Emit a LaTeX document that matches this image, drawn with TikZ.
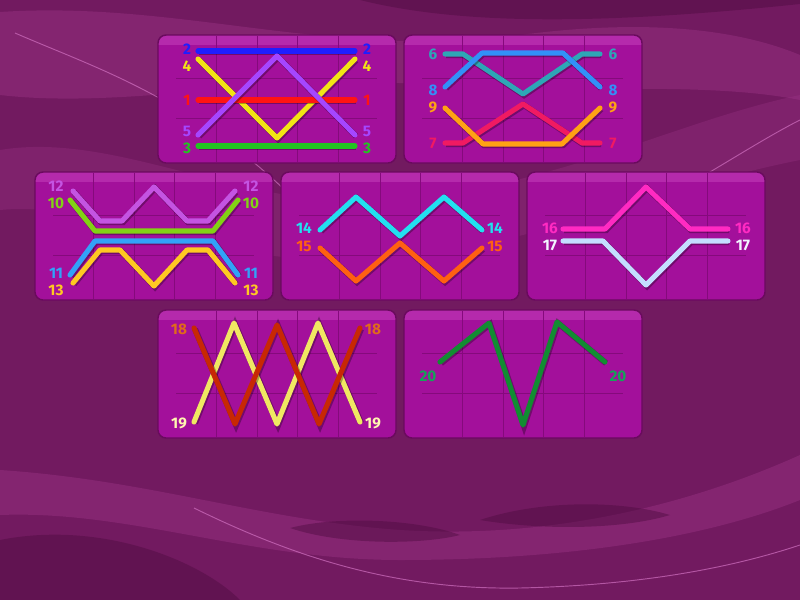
\documentclass[tikz,border=0pt]{standalone}
\usepackage{fontspec}
\setmainfont{Fira Sans}
\usetikzlibrary{positioning}

\definecolor{bgbase}{HTML}{721A60}
\definecolor{bglight}{HTML}{A63A90}
\definecolor{bgdark}{HTML}{4E0C40}
\definecolor{bgline}{HTML}{D070C0}
\definecolor{pnlfill}{HTML}{A3109B}
\definecolor{pnltop}{HTML}{B52AAC}
\definecolor{pnlrim}{HTML}{6A0A5E}
\definecolor{pnlgrid}{HTML}{850A7C}
\definecolor{c1}{HTML}{FF1414}
\definecolor{c2}{HTML}{1E1EFF}
\definecolor{c3}{HTML}{22C422}
\definecolor{c4}{HTML}{F2E414}
\definecolor{c5}{HTML}{A546FF}
\definecolor{c6}{HTML}{2EA6B6}
\definecolor{c7}{HTML}{F01A62}
\definecolor{c8}{HTML}{3290F8}
\definecolor{c9}{HTML}{FFA214}
\definecolor{c10}{HTML}{82D214}
\definecolor{c11}{HTML}{32A2F8}
\definecolor{c12}{HTML}{C454E2}
\definecolor{c13}{HTML}{FFC822}
\definecolor{c14}{HTML}{22E0F0}
\definecolor{c15}{HTML}{FF6012}
\definecolor{c16}{HTML}{FF2AC2}
\definecolor{c17}{HTML}{C4DEFF}
\definecolor{c18}{HTML}{C82804}
\definecolor{c19}{HTML}{F0E862}
\definecolor{c20}{HTML}{128C32}
\definecolor{t17}{HTML}{F2F4FF}
\definecolor{t18}{HTML}{E06A1A}
\definecolor{t19}{HTML}{FFF6B0}
\definecolor{t20}{HTML}{14A458}

\begin{document}
\begin{tikzpicture}[
  x=0.75pt, y=-0.75pt,
  panel/.style={fill=pnlfill, rounded corners=6pt},
  rim/.style={draw=pnlrim, line width=1.1pt, rounded corners=6pt},
  gridline/.style={draw=pnlgrid, line width=0.6pt},
  pay/.style={line width=3.8pt, line cap=round, line join=round,
              preaction={draw=black, draw opacity=0.3, line width=4.5pt,
                         transform canvas={shift={(0.8pt,-0.9pt)}}}},
  num/.style={font=\fontsize{11.5}{11.5}\selectfont\bfseries, inner sep=0pt},
  wave/.style={bglight, opacity=0.35},
  trough/.style={bgdark, opacity=0.45},
  streak/.style={draw=bgline, line width=0.7pt, opacity=0.7}
]
\useasboundingbox (0,0) rectangle (800,600);

% === Background ===
\fill[bgbase] (0,0) rectangle (800,600);
\fill[trough] (360,0) .. controls (460,25) and (600,25) .. (800,4) -- (800,0) -- cycle;
\fill[wave] (0,12) .. controls (180,0) and (330,60) .. (520,35)
  .. controls (650,18) and (740,30) .. (800,55) -- (800,100)
  .. controls (700,80) and (560,95) .. (430,85)
  .. controls (280,72) and (130,110) .. (0,95) -- cycle;
\fill[wave, opacity=0.25] (0,150) .. controls (120,130) and (250,215) .. (400,200)
  .. controls (560,185) and (680,120) .. (800,95) -- (800,160)
  .. controls (650,190) and (520,250) .. (380,260)
  .. controls (220,270) and (100,200) .. (0,210) -- cycle;
\fill[trough] (0,540) .. controls (100,520) and (200,560) .. (240,600) -- (0,600) -- cycle;
\fill[wave] (0,470) .. controls (150,480) and (260,520) .. (400,530)
  .. controls (560,540) and (700,500) .. (800,455) -- (800,500)
  .. controls (700,540) and (560,560) .. (400,560)
  .. controls (250,560) and (130,510) .. (0,515) -- cycle;
\fill[trough] (480,520) .. controls (540,500) and (620,500) .. (670,515)
  .. controls (620,530) and (540,530) .. (480,520) -- cycle;
\fill[trough] (290,528) .. controls (340,515) and (420,520) .. (460,535)
  .. controls (420,545) and (340,545) .. (290,528) -- cycle;
\draw[streak] (15,33) .. controls (100,70) and (200,100) .. (310,215);
\draw[streak] (640,212) .. controls (700,180) and (760,140) .. (800,120);
\draw[streak] (194,508) .. controls (300,560) and (400,590) .. (520,588)
  .. controls (650,585) and (740,565) .. (800,545);

% === Panels ===
\foreach \px/\py in {158/35, 404/35, 35/172, 281/172, 527/172, 158/310, 404/310} {
  \begin{scope}[shift={(\px,\py)}]
    \fill[panel] (0,0) rectangle (238,128);
    \begin{scope}
      \clip[rounded corners=6pt] (0,0) rectangle (238,128);
      \fill[pnltop] (0,0) rectangle (238,10);
    \end{scope}
    \foreach \gx in {58.5, 99, 139.5, 180}
      \draw[gridline] (\gx,1) -- (\gx,127);
    \foreach \gy in {43, 83.5}
      \draw[gridline] (18,\gy) -- (219,\gy);
    \draw[rim] (0,0) rectangle (238,128);
  \end{scope}
}

% === Lines 1-5 ===
\begin{scope}[shift={(158,35)}]
  \draw[pay, c2] (40,16) -- (197,16);
  \draw[pay, c4] (40,24) -- (119,103) -- (197,24);
  \draw[pay, c1] (40,65) -- (197,65);
  \draw[pay, c5] (40,100) -- (119,21) -- (197,100);
  \draw[pay, c3] (40,111) -- (197,111);
  \node[num, c2] (l2) at (29,14) {2};   \node[num, c2] (r2) at (209,14) {2};
  \node[num, c4] (l4) at (29,31) {4};   \node[num, c4] (r4) at (209,31) {4};
  \node[num, c1] (l1) at (29,65) {1};   \node[num, c1] (r1) at (209,65) {1};
  \node[num, c5] (l5) at (29,96) {5};   \node[num, c5] (r5) at (209,96) {5};
  \node[num, c3] (l3) at (29,113) {3};  \node[num, c3] (r3) at (209,113) {3};
\end{scope}

% === Lines 6-9 ===
\begin{scope}[shift={(404,35)}]
  \draw[pay, c6] (41,19) -- (59,19) -- (119,59) -- (178,19) -- (196,19);
  \draw[pay, c8] (41,52) -- (78,18) -- (159,18) -- (196,52);
  \draw[pay, c7] (41,108) -- (59,108) -- (119,69) -- (178,108) -- (196,108);
  \draw[pay, c9] (41,73) -- (79,109) -- (158,109) -- (196,73);
  \node[num, c6] (l6) at (29,19) {6};   \node[num, c6] (r6) at (209,19) {6};
  \node[num, c8] (l8) at (29,55) {8};   \node[num, c8] (r8) at (209,55) {8};
  \node[num, c9] (l9) at (29,72) {9};   \node[num, c9] (r9) at (209,72) {9};
  \node[num, c7] (l7) at (29,108) {7};  \node[num, c7] (r7) at (209,108) {7};
\end{scope}

% === Lines 10-13 ===
\begin{scope}[shift={(35,172)}]
  \draw[pay, c12] (38,19) -- (65,49) -- (87,49) -- (119,15) -- (152,49) -- (173,49) -- (200,19);
  \draw[pay, c10] (35,28) -- (60,59) -- (178,59) -- (203,28);
  \draw[pay, c11] (35,103) -- (60,69) -- (178,69) -- (203,103);
  \draw[pay, c13] (38,111) -- (65,78) -- (85,78) -- (119,114) -- (152,78) -- (173,78) -- (200,111);
  \node[num, c12] (l12) at (21,14) {12};  \node[num, c12] (r12) at (216,14) {12};
  \node[num, c10] (l10) at (21,31) {10};  \node[num, c10] (r10) at (216,31) {10};
  \node[num, c11] (l11) at (21,101) {11}; \node[num, c11] (r11) at (216,101) {11};
  \node[num, c13] (l13) at (21,118) {13}; \node[num, c13] (r13) at (216,118) {13};
\end{scope}

% === Lines 14-15 ===
\begin{scope}[shift={(281,172)}]
  \draw[pay, c14] (39,58) -- (75,25) -- (119,64) -- (163,25) -- (201,58);
  \draw[pay, c15] (39,76) -- (75,109) -- (119,71) -- (163,109) -- (201,76);
  \node[num, c14] (l14) at (23,56) {14};  \node[num, c14] (r14) at (214,56) {14};
  \node[num, c15] (l15) at (23,74) {15};  \node[num, c15] (r15) at (214,74) {15};
\end{scope}

% === Lines 16-17 ===
\begin{scope}[shift={(527,172)}]
  \draw[pay, c16] (36,57) -- (78,57) -- (119,15) -- (163,57) -- (201,57);
  \draw[pay, c17] (36,69) -- (76,69) -- (119,113) -- (163,69) -- (201,69);
  \node[num, c16] (l16) at (23,56) {16};  \node[num, c16] (r16) at (216,56) {16};
  \node[num, t17] (l17) at (23,73) {17};  \node[num, t17] (r17) at (216,73) {17};
\end{scope}

% === Lines 18-19 ===
\begin{scope}[shift={(158,310)}]
  \draw[pay, c19] (36,112) -- (76,13) -- (119,114) -- (160,13) -- (202,112);
  \draw[pay, c18] (36,18) -- (77,114) -- (119,15) -- (161,114) -- (202,18);
  \node[num, t18] (l18) at (21,19) {18};  \node[num, t18] (r18) at (215,19) {18};
  \node[num, t19] (l19) at (21,113) {19}; \node[num, t19] (r19) at (215,113) {19};
\end{scope}

% === Line 20 ===
\begin{scope}[shift={(404,310)}]
  \draw[pay, c20] (36,52) -- (85,13) -- (119,115) -- (153,12) -- (201,52);
  \node[num, t20] (l20) at (24,66) {20};  \node[num, t20] (r20) at (214,66) {20};
\end{scope}

\end{tikzpicture}
\end{document}
